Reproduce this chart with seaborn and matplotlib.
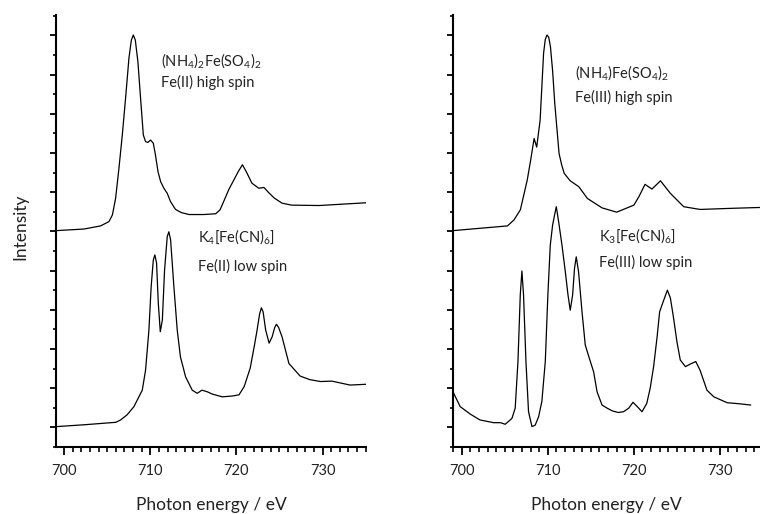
import numpy as np
import pandas as pd
import matplotlib
matplotlib.use("Agg")
import matplotlib.pyplot as plt
import seaborn as sns
from matplotlib.ticker import MultipleLocator, FixedLocator

# ---- data (photon energy in eV, intensity in arbitrary offset units) ----
fe2hs_x = [699.1, 702.3, 704.23, 705.2, 705.6, 705.97, 706.36, 706.75, 707.13, 707.52, 707.8, 708.03,
           708.26, 708.56, 708.87, 709.19, 709.45, 709.72, 710.03, 710.35, 710.6, 710.9, 711.2, 711.58,
           711.97, 712.35, 712.93, 713.6, 714.5, 716.2, 717.6, 718.1, 718.5, 719.1, 719.7, 720.2, 720.7,
           721.2, 721.8, 722.6, 723.2, 723.7, 724.4, 725.3, 726.4, 729.6, 735.05]
fe2hs_y = [5.52, 5.56, 5.64, 5.75, 5.92, 6.34, 7.11, 7.96, 8.9, 9.92, 10.38, 10.51,
           10.38, 9.83, 8.9, 7.96, 7.79, 7.77, 7.83, 7.75, 7.45, 7.02, 6.77, 6.6,
           6.47, 6.26, 6.06, 5.98, 5.93, 5.93, 5.95, 6.05, 6.25, 6.56, 6.81, 7.02, 7.2,
           7.0, 6.73, 6.6, 6.62, 6.5, 6.35, 6.22, 6.17, 6.16, 6.23]

fe2ls_x = [699.1, 702.5, 706.0, 706.55, 707.3, 708.1, 709.07, 709.45, 709.84, 710.1, 710.35, 710.53,
           710.73, 710.93, 711.16, 711.4, 711.66, 711.97, 712.16, 712.36, 712.74, 713.13, 713.5, 714.1,
           714.87, 715.45, 716.0, 716.6, 717.2, 718.35, 719.5, 720.3, 720.9, 721.6, 722.1, 722.4, 722.7,
           722.9, 723.1, 723.4, 723.8, 724.15, 724.45, 724.65, 724.9, 725.3, 726.1, 727.4, 728.5, 729.75,
           731.1, 733.2, 735.05]
fe2ls_y = [0.52, 0.57, 0.63, 0.69, 0.82, 1.03, 1.45, 1.96, 2.98, 4.09, 4.77, 4.9,
           4.69, 3.67, 2.94, 3.24, 4.52, 5.37, 5.49, 5.28, 4.09, 2.98, 2.3, 1.79,
           1.45, 1.37, 1.45, 1.41, 1.35, 1.28, 1.3, 1.33, 1.54, 2.01, 2.6, 2.98, 3.4,
           3.55, 3.45, 2.98, 2.65, 2.81, 3.05, 3.13, 3.05, 2.81, 2.13, 1.81, 1.72, 1.67,
           1.68, 1.58, 1.6]

fe3hs_x = [699.0, 705.3, 706.05, 706.8, 707.6, 708.0, 708.4, 708.7, 709.1, 709.5, 709.7, 709.9, 710.1,
           710.3, 710.55, 710.8, 711.3, 711.6, 711.9, 712.6, 713.6, 714.6, 716.3, 718.0, 720.0, 720.6,
           721.3, 722.1, 723.1, 724.25, 725.8, 727.7, 731.6, 734.65]
fe3hs_y = [5.52, 5.64, 5.79, 6.05, 6.81, 7.32, 7.87, 7.65, 8.34, 10.04, 10.4, 10.51, 10.45,
           10.21, 9.6, 8.77, 7.49, 7.2, 6.98, 6.79, 6.64, 6.34, 6.1, 5.99, 6.17, 6.39,
           6.70, 6.58, 6.79, 6.47, 6.13, 6.06, 6.09, 6.11]

fe3ls_x = [699.0, 699.8, 700.97, 702.1, 703.7, 704.5, 705.04, 705.82, 706.2, 706.52, 706.79, 706.98,
           707.17, 707.45, 707.75, 708.15, 708.53, 708.92, 709.3, 709.7, 710.0, 710.28, 710.55, 710.78,
           710.98, 711.25, 711.64, 712.03, 712.34, 712.6, 712.88, 713.1, 713.3, 713.57, 713.97, 714.35,
           714.94, 715.32, 715.72, 716.3, 716.9, 717.5, 718.2, 718.8, 719.4, 719.9, 720.4, 720.95,
           721.5, 721.9, 722.3, 722.7, 723.0, 723.4, 723.9, 724.25, 724.6, 725.0, 725.4, 726.0, 726.6,
           727.2, 727.7, 728.5, 729.3, 730.85, 732.4, 733.6]
fe3ls_y = [1.39, 1.03, 0.84, 0.69, 0.62, 0.62, 0.58, 0.73, 0.99, 2.18, 3.88, 4.49,
           3.88, 2.18, 0.9, 0.52, 0.56, 0.77, 1.16, 2.18, 3.88, 5.15, 5.66, 5.92,
           6.13, 5.75, 5.15, 4.47, 3.88, 3.49, 3.88, 4.56, 4.85, 4.47, 3.45, 2.6,
           2.18, 1.92, 1.41, 1.07, 0.99, 0.92, 0.88, 0.9, 0.99, 1.14, 1.03, 0.9,
           1.11, 1.5, 2.05, 2.8, 3.45, 3.7, 4.0, 3.8, 3.32, 2.7, 2.22, 2.05, 2.12,
           2.18, 1.96, 1.45, 1.28, 1.13, 1.1, 1.07]

xticks = [700, 710, 720, 730]
xlabel = "Photon energy / eV"
ylabel = "Intensity"

labels_left = [(711.3, 9.72, "(NH$_4$)$_2$Fe(SO$_4$)$_2$"), (711.3, 9.18, "Fe(II) high spin"),
               (715.5, 5.24, "K$_4$[Fe(CN)$_6$]"), (715.5, 4.49, "Fe(II) low spin")]
labels_right = [(713.2, 9.43, "(NH$_4$)Fe(SO$_4$)$_2$"), (713.2, 8.80, "Fe(III) high spin"),
                (715.9, 5.26, "K$_3$[Fe(CN)$_6$]"), (715.9, 4.60, "Fe(III) low spin")]

# ---- style ----
sns.set_style("ticks")
plt.rcParams["font.family"] = ["Lato", "DejaVu Sans"]
plt.rcParams["mathtext.default"] = "regular"

fig = plt.figure(figsize=(7.6, 5.14), dpi=100)
axL = fig.add_axes([56 / 760, 67 / 514, 310 / 760, 432 / 514])
axR = fig.add_axes([453.3 / 760, 67 / 514, 306.5 / 760, 432 / 514])


def draw(ax, series, xlim, labels):
    for xs, ys in series:
        df = pd.DataFrame({"x": xs, "y": ys})
        sns.lineplot(data=df, x="x", y="y", ax=ax, color="black", linewidth=0.9,
                     sort=False, estimator=None)
    ax.set_xlim(*xlim)
    ax.set_ylim(0, 11.02)
    ax.xaxis.set_major_locator(FixedLocator(xticks))
    ax.xaxis.set_minor_locator(MultipleLocator(1))
    ax.yaxis.set_major_locator(FixedLocator(np.arange(0.5, 11, 1.0)))
    ax.yaxis.set_minor_locator(FixedLocator(np.arange(0, 11.5, 1.0)))
    ax.set_yticklabels([])
    for s in ["top", "right"]:
        ax.spines[s].set_visible(False)
    for s in ["left", "bottom"]:
        ax.spines[s].set_linewidth(1.5)
        ax.spines[s].set_color("black")
    ax.tick_params(axis="x", which="major", length=6, width=1.3, pad=6, labelsize=10.5,
                   color="black", labelcolor="#222222")
    ax.tick_params(axis="x", which="minor", length=3.5, width=1.2, color="black")
    ax.tick_params(axis="y", which="major", length=4.5, width=1.3, color="black")
    ax.tick_params(axis="y", which="minor", length=2.5, width=1.2, color="black")
    ax.set_xlabel(xlabel, fontsize=12.5, labelpad=14, color="#222222")
    ax.set_ylabel("")
    for x, y, t in labels:
        ax.text(x, y, t, fontsize=10.5, ha="left", va="baseline", color="#222222")


draw(axL, [(fe2hs_x, fe2hs_y), (fe2ls_x, fe2ls_y)], (699.05, 735.05), labels_left)
draw(axR, [(fe3hs_x, fe3hs_y), (fe3ls_x, fe3ls_y)], (699.0, 734.65), labels_right)

axL.set_ylabel(ylabel, fontsize=12.5, color="#222222")
axL.yaxis.set_label_coords(-0.09, 0.51)

fig.savefig("out.png", dpi=100)
